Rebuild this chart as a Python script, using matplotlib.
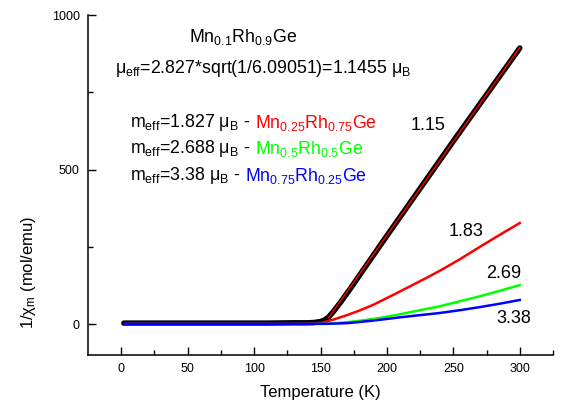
import matplotlib
matplotlib.use("Agg")
import matplotlib.pyplot as plt

plt.rcParams['font.family'] = ['Liberation Sans', 'DejaVu Sans']
plt.rcParams['mathtext.fontset'] = 'custom'
plt.rcParams['mathtext.rm'] = 'Liberation Sans'
plt.rcParams['mathtext.it'] = 'Liberation Sans:italic'
plt.rcParams['mathtext.default'] = 'regular'

# ---- data ----
T_meas = [2, 20, 50, 80, 110, 130, 140, 145, 150, 153, 156, 160, 165, 172.5, 185, 200, 250, 300]
y_meas = [3, 3, 3, 3, 3, 4, 4, 5, 8, 13, 22, 42, 70, 115, 193, 286, 592, 893]

T_fit = [156, 300]
y_fit = [20, 895]

T_red = [3, 50, 100, 140, 151, 160, 170, 180, 190, 205, 230, 240, 255, 270, 285, 300]
y_red = [1, 1, 1, 1, 4, 15, 29, 45, 63, 95, 150, 173, 210, 250, 289, 327]

T_green = [3, 50, 100, 140, 155, 170, 180, 195, 210, 225, 240, 255, 270, 285, 300]
y_green = [0, 0, 0, 0, 1, 6, 11, 20, 32, 45, 58, 74, 90, 108, 126]

T_blue = [3, 50, 100, 140, 155, 170, 180, 195, 210, 225, 240, 255, 270, 285, 300]
y_blue = [1, 1, 1, 1, 1, 3, 7, 14, 22, 29, 36, 45, 55, 66, 78]

curve_labels = ["1.15", "1.83", "2.69", "3.38"]
x_ticks = [0, 50, 100, 150, 200, 250, 300]
y_ticks = [0, 500, 1000]

fig = plt.figure(figsize=(5.62, 4.08), dpi=100)
ax = fig.add_axes([88/562, 1-355/408, (553-88)/562, (355-15)/408])

ax.plot(T_meas, y_meas, color='black', lw=4.0, solid_capstyle='round', zorder=2)
ax.plot(T_fit, y_fit, color='red', lw=1.0, zorder=3)
ax.plot(T_red, y_red, color='#ff0000', lw=1.8, zorder=4)
ax.plot(T_green, y_green, color='#00ff00', lw=1.8, zorder=5)
ax.plot(T_blue, y_blue, color='#0000ff', lw=1.8, zorder=6)

ax.set_xlim(-25, 325)
ax.set_ylim(-100, 1000)
ax.set_xticks(x_ticks)
ax.set_xticks(range(25, 326, 50), minor=True)
ax.set_yticks(y_ticks)
ax.set_yticks([250, 750], minor=True)
ax.tick_params(which='both', direction='in', labelsize=9, width=1)
ax.tick_params(which='major', length=6, pad=6)
ax.tick_params(which='minor', length=3.5)
for s in ['top', 'right']:
    ax.spines[s].set_visible(False)
for s in ['left', 'bottom']:
    ax.spines[s].set_linewidth(1.1)

fig.text(320/562, 1-392/408, "Temperature (K)", ha='center', va='center', fontsize=12)
fig.text(28/562, 1-272/408, r"1/$χ_{m}$ (mol/emu)", ha='center', va='center',
         rotation=90, fontsize=12)

fs = 12.8
ax.text(91.8, 913, r"Mn$_{0.1}$Rh$_{0.9}$Ge", ha='center', va='baseline', fontsize=fs)
ax.text(-4.8, 812, r"$μ_{eff}$=2.827*sqrt(1/6.09051)=1.1455 $μ_{B}$", ha='left',
        va='baseline', fontsize=fs)

rows = [
    (638, r"$m_{eff}$=1.827 $μ_{B}$ -", r"Mn$_{0.25}$Rh$_{0.75}$Ge", '#ff0000'),
    (552, r"$m_{eff}$=2.688 $μ_{B}$ -", r"Mn$_{0.5}$Rh$_{0.5}$Ge", '#00ff00'),
    (466, r"$m_{eff}$=3.38 $μ_{B}$ -", r"Mn$_{0.75}$Rh$_{0.25}$Ge", '#0000ff'),
]
for yb, left, right, col in rows:
    t1 = ax.text(6.6, yb, left, ha='left', va='baseline', fontsize=fs)
    ax.annotate(right, xy=(1, 0), xycoords=t1, xytext=(3.5, 0),
                textcoords='offset points', ha='left', va='bottom',
                fontsize=fs, color=col)

label_pos = [(230.6, 628), (259.3, 285), (287.7, 148), (295.2, 2)]
for (x, y), s in zip(label_pos, curve_labels):
    ax.text(x, y, s, ha='center', va='baseline', fontsize=13)

fig.savefig("out.png", dpi=100)
